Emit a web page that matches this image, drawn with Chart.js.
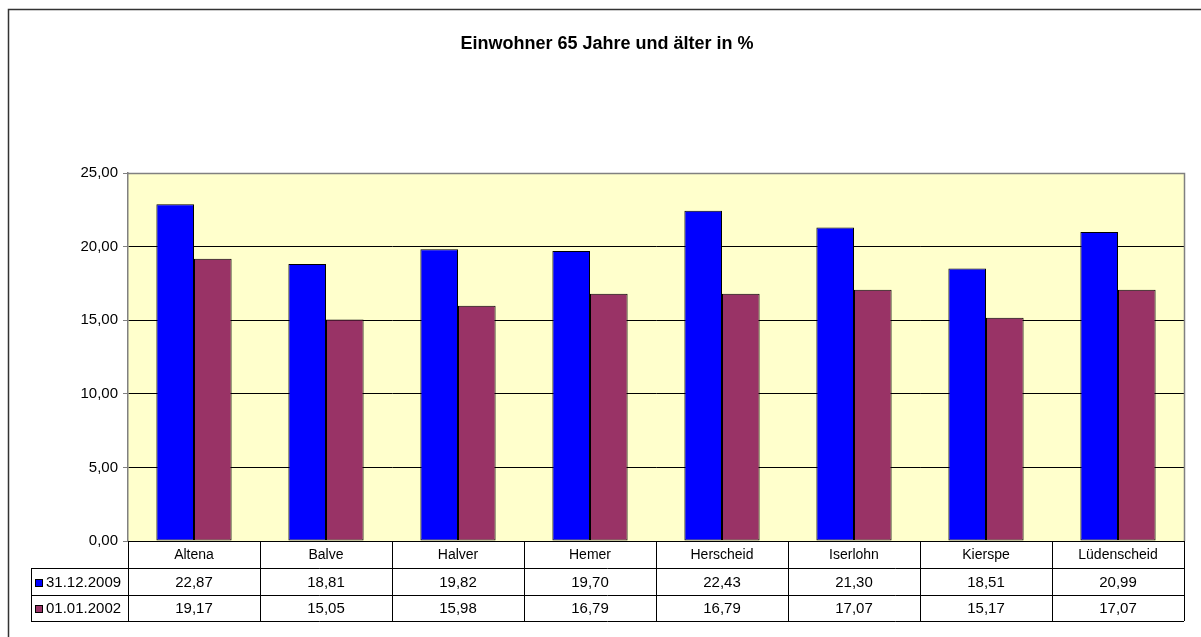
<!DOCTYPE html>
<html lang="de">
<head>
  <meta charset="UTF-8" />
  <title>Einwohner 65 Jahre und älter in %</title>
  <script src="https://cdn.jsdelivr.net/npm/chart.js"></script>
  <style>
    body {
      margin: 0;
      background: #fff;
    }
    canvas {
      display: block;
    }
  </style>
</head>
<body>
  <canvas id="chart" width="1201" height="637"></canvas>

  <script>
    // data
    const orte = ['Altena', 'Balve', 'Halver', 'Hemer', 'Herscheid', 'Iserlohn', 'Kierspe', 'Lüdenscheid'];
    const serie2009 = [22.87, 18.81, 19.82, 19.70, 22.43, 21.30, 18.51, 20.99];
    const serie2002 = [19.17, 15.05, 15.98, 16.79, 16.79, 17.07, 15.17, 17.07];
    const serienNamen = ['31.12.2009', '01.01.2002'];
    const farben = ['#0000ff', '#993366'];

    const FONT = '"Liberation Sans", Arial, sans-serif';

    function fmt(n) {
      return n.toFixed(2).replace('.', ',');
    }

    // white page + outer frame (only left and top edge are inside the picture)
    const frame = {
      id: 'frame',
      beforeDraw(chart) {
        const ctx = chart.ctx;
        const a = chart.chartArea;
        ctx.save();
        ctx.fillStyle = '#fff';
        ctx.fillRect(0, 0, chart.width, chart.height);
        ctx.strokeStyle = '#333';
        ctx.lineWidth = 1.5;
        ctx.beginPath();
        ctx.moveTo(8.5, chart.height + 5);
        ctx.lineTo(8.5, 9.5);
        ctx.lineTo(chart.width + 5, 9.5);
        ctx.stroke();
        // plot area background
        ctx.fillStyle = '#ffffcc';
        ctx.fillRect(a.left, a.top, a.right - a.left, a.bottom - a.top);
        ctx.restore();
      }
    };

    // Excel style data table under the plot
    const datenTabelle = {
      id: 'datenTabelle',
      afterDraw(chart) {
        const ctx = chart.ctx;
        const a = chart.chartArea;
        const xs = chart.scales.x;
        const w = (a.right - a.left) / orte.length;
        const y0 = a.bottom;
        const rows = [y0, 568, 595, 621];
        const legLeft = 31;

        ctx.save();

        // plot area border top/right
        ctx.strokeStyle = '#808080';
        ctx.lineWidth = 1.5;
        ctx.beginPath();
        ctx.moveTo(a.left, a.top + 0.5);
        ctx.lineTo(a.right + 0.5, a.top + 0.5);
        ctx.lineTo(a.right + 0.5, a.bottom);
        ctx.stroke();

        ctx.strokeStyle = '#000';
        ctx.lineWidth = 1;
        ctx.beginPath();
        ctx.moveTo(a.left, rows[0] + 0.5);
        ctx.lineTo(a.right, rows[0] + 0.5);
        for (let r = 1; r < rows.length; r++) {
          ctx.moveTo(legLeft, rows[r] + 0.5);
          ctx.lineTo(a.right, rows[r] + 0.5);
        }
        ctx.moveTo(legLeft + 0.5, rows[1]);
        ctx.lineTo(legLeft + 0.5, rows[3]);
        for (let i = 0; i <= orte.length; i++) {
          const x = Math.round(a.left + i * w) + 0.5;
          ctx.moveTo(x, rows[0]);
          ctx.lineTo(x, rows[3]);
        }
        ctx.stroke();

        ctx.fillStyle = '#000';
        ctx.textAlign = 'center';
        ctx.textBaseline = 'middle';
        const werte = [serie2009, serie2002];
        orte.forEach((name, i) => {
          const cx = xs.getPixelForValue(i);
          ctx.font = '14px ' + FONT;
          ctx.fillText(name, cx, (rows[0] + rows[1]) / 2 + 1);
          ctx.font = '15px ' + FONT;
          werte.forEach((s, k) => {
            ctx.fillText(fmt(s[i]), cx, (rows[k + 1] + rows[k + 2]) / 2 + 1);
          });
        });

        // legend keys + series names
        ctx.textAlign = 'left';
        ctx.font = '15px ' + FONT;
        serienNamen.forEach((n, k) => {
          const cy = Math.round((rows[k + 1] + rows[k + 2]) / 2);
          ctx.fillStyle = farben[k];
          ctx.fillRect(35, cy - 3, 8, 8);
          ctx.strokeStyle = '#000';
          ctx.strokeRect(35.5, cy - 2.5, 7, 7);
          ctx.fillStyle = '#000';
          ctx.fillText(n, 46, cy + 1);
        });

        ctx.restore();
      }
    };

    new Chart(document.getElementById('chart'), {
      type: 'bar',
      data: {
        labels: orte,
        datasets: [
          {
            label: serienNamen[0],
            data: serie2009,
            backgroundColor: farben[0],
            borderColor: '#000',
            borderWidth: 1,
            borderSkipped: false
          },
          {
            label: serienNamen[1],
            data: serie2002,
            backgroundColor: farben[1],
            borderColor: '#000',
            borderWidth: 1,
            borderSkipped: false
          }
        ]
      },
      options: {
        responsive: false,
        animation: false,
        layout: { padding: { left: 30, right: 17, top: 0, bottom: 0 } },
        datasets: {
          bar: { categoryPercentage: 0.57, barPercentage: 1.0 }
        },
        plugins: {
          legend: { display: false },
          tooltip: { enabled: false },
          title: {
            display: true,
            text: 'Einwohner 65 Jahre und älter in %',
            color: '#000',
            font: { family: FONT, size: 18, weight: 'bold' },
            padding: { top: 33, bottom: 118.4 }
          }
        },
        scales: {
          x: {
            ticks: { display: false },
            grid: { display: false },
            border: { display: false },
            afterFit(scale) { scale.height = 96; }
          },
          y: {
            min: 0,
            max: 25,
            ticks: {
              stepSize: 5,
              color: '#000',
              padding: 5,
              font: { family: FONT, size: 15 },
              callback: v => fmt(v)
            },
            grid: { color: '#000', tickColor: '#808080', tickLength: 5 },
            border: { color: '#808080', width: 1.5 },
            afterFit(scale) { scale.width = 98; }
          }
        }
      },
      plugins: [frame, datenTabelle]
    });
  </script>
</body>
</html>
